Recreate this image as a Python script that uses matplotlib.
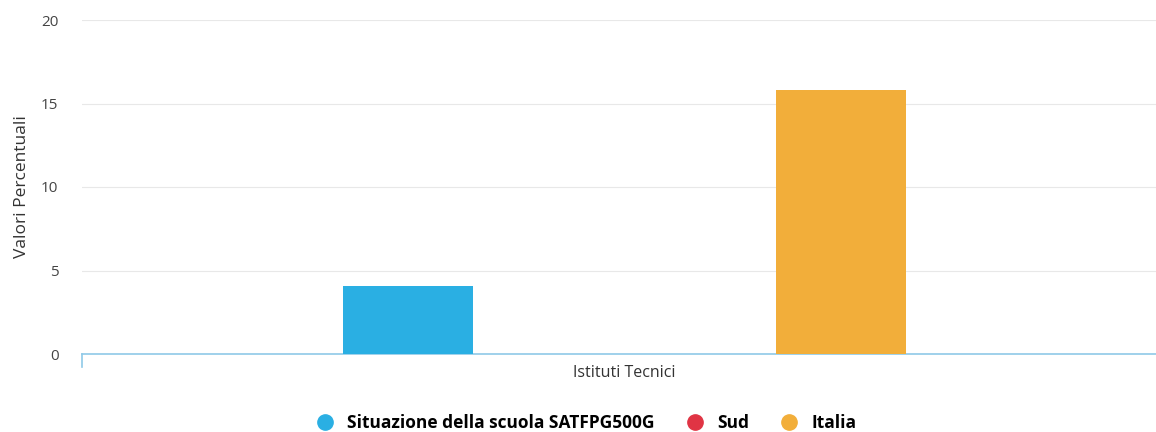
import matplotlib
matplotlib.use("Agg")
import matplotlib.pyplot as plt
from matplotlib.lines import Line2D

categories = ["Istituti Tecnici"]
series_names = ["Situazione della scuola SATFPG500G", "Sud", "Italia"]
series_values = [[4.1], [0.0], [15.8]]
colors = ["#2aafe3", "#e03444", "#f2ae3a"]
yticks = [0, 5, 10, 15, 20]

plt.rcParams['font.family'] = ['Open Sans', 'DejaVu Sans']

fig = plt.figure(figsize=(11.56, 4.32), dpi=100)
ax = fig.add_axes([82/1156, 1-354/432, 1-82/1156, (354-20)/432])

n = len(series_names)
width = 0.6
for i, (name, vals, c) in enumerate(zip(series_names, series_values, colors)):
    xs = [j + (i - (n-1)/2) for j in range(len(categories))]
    ax.bar(xs, vals, width=width, color=c, label=name, zorder=3)

ax.set_xlim(-2.506, 2.455)
ax.set_ylim(0, 20)
ax.set_yticks(yticks)
ax.set_yticklabels([str(t) for t in yticks], fontsize=11, color="#444444")
ax.tick_params(axis='y', length=0, pad=17)
ax.set_xticks([0])
ax.set_xticklabels(categories, fontsize=11.5, color="#333333")
ax.tick_params(axis='x', length=0, pad=8)
ax.grid(axis='y', color="#e8e8e8", linewidth=0.8, zorder=0)
for s in ['top', 'right', 'left']:
    ax.spines[s].set_visible(False)
ax.spines['bottom'].set_color("#8fc9e8")
ax.spines['bottom'].set_linewidth(1.2)
ax.axvline(-2.506, ymin=-0.04, ymax=0, color="#8fc9e8", lw=1.2, clip_on=False)
ax.set_ylabel("Valori Percentuali", fontsize=12.5, color="#333333", labelpad=8)

handles = [Line2D([0], [0], marker='o', linestyle='none', markersize=11,
                  markerfacecolor=c, markeredgecolor=c) for c in colors]
fig.legend(handles, series_names, loc='center', bbox_to_anchor=(582/1156, 1-423/432),
           ncol=3, frameon=False, handletextpad=0.3, columnspacing=1.3,
           prop={'weight': 'bold', 'size': 12.5})
fig.savefig("out.png", dpi=100, facecolor="white")
